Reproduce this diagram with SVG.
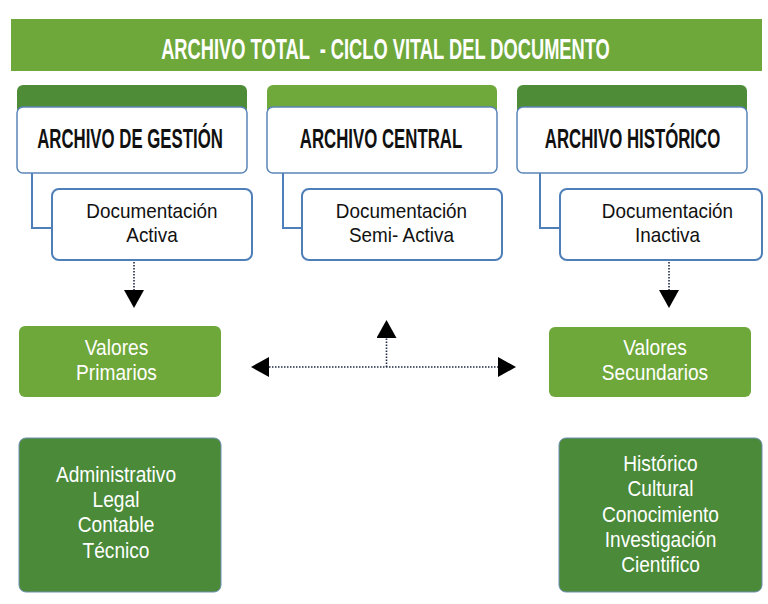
<svg xmlns="http://www.w3.org/2000/svg" width="768" height="604" viewBox="0 0 768 604">
<style>
.banner{fill:#6ea83a}
.tabDark{fill:#4e8c37}
.tabLight{fill:#6fa83b}
.head{fill:#ffffff;stroke:#5b85b8;stroke-width:1.5}
.sub{fill:#ffffff;stroke:#4f7fb8;stroke-width:2}
.val{fill:#6ea83a}
.cat{fill:#4a8a38;stroke:#6f8fb0;stroke-width:1}
.title{font-family:"Liberation Sans",Arial,sans-serif;font-weight:bold;font-size:30px;fill:#ffffff;text-anchor:middle;white-space:pre}
.htext{font-family:"Liberation Sans",Arial,sans-serif;font-weight:bold;font-size:28px;fill:#111111;text-anchor:middle}
.stext{font-family:"Liberation Sans",Arial,sans-serif;font-size:21px;fill:#111111;text-anchor:middle}
.wtext{font-family:"Liberation Sans",Arial,sans-serif;font-size:22px;fill:#ffffff;text-anchor:middle}
.link{fill:none;stroke:#4f7fb8;stroke-width:2}
.dot{fill:none;stroke:#1f2a44;stroke-width:1.6;stroke-dasharray:1.5 1.5}
</style>
<defs>
<marker id="arr" viewBox="0 0 18 20" refX="0" refY="10" markerWidth="18" markerHeight="20" markerUnits="userSpaceOnUse" orient="auto-start-reverse">
<path d="M0,0 L18,10 L0,20 z" fill="#000000"/>
</marker>
</defs>
<rect width="768" height="604" fill="#ffffff"/>

<g id="title">
<rect class="banner" x="11" y="19" width="751" height="52"/>
<text class="title" transform="translate(385.5,59) scale(0.61,1)" x="0" y="0">ARCHIVO TOTAL  - CICLO VITAL DEL DOCUMENTO</text>
</g>

<g id="connectors">
<path class="link" d="M32,173 V228 H52"/>
<path class="link" d="M283,173 V228 H302"/>
<path class="link" d="M540,173 V228 H560"/>
<line class="dot" x1="134" y1="262" x2="134" y2="290" marker-end="url(#arr)"/>
<line class="dot" x1="669" y1="262" x2="669" y2="290" marker-end="url(#arr)"/>
<line class="dot" x1="269" y1="367" x2="498" y2="367" marker-start="url(#arr)" marker-end="url(#arr)"/>
<line class="dot" x1="386.5" y1="367" x2="386.5" y2="338" marker-end="url(#arr)"/>
</g>

<g id="archivo-gestion">
<rect class="tabDark" x="17" y="85" width="230" height="30" rx="6"/>
<rect class="head" x="17" y="107" width="230" height="66" rx="6"/>
<text class="htext" transform="translate(130,148) scale(0.6,1)" x="0" y="0">ARCHIVO DE GESTIÓN</text>
</g>
<g id="doc-activa">
<rect class="sub" x="52" y="189" width="200" height="71" rx="7"/>
<text class="stext" transform="translate(152,0) scale(0.9,1)"><tspan x="0" y="218">Documentación</tspan><tspan x="0" y="242">Activa</tspan></text>
</g>

<g id="archivo-central">
<rect class="tabLight" x="267" y="85" width="230" height="30" rx="6"/>
<rect class="head" x="267" y="107" width="230" height="66" rx="6"/>
<text class="htext" transform="translate(381,148) scale(0.6,1)" x="0" y="0">ARCHIVO CENTRAL</text>
</g>
<g id="doc-semi-activa">
<rect class="sub" x="302" y="189" width="200" height="71" rx="7"/>
<text class="stext" transform="translate(401.5,0) scale(0.9,1)"><tspan x="0" y="218">Documentación</tspan><tspan x="0" y="242">Semi- Activa</tspan></text>
</g>

<g id="archivo-historico">
<rect class="tabDark" x="517" y="85" width="230" height="30" rx="6"/>
<rect class="head" x="517" y="107" width="230" height="66" rx="6"/>
<text class="htext" transform="translate(632.5,148) scale(0.6,1)" x="0" y="0">ARCHIVO HISTÓRICO</text>
</g>
<g id="doc-inactiva">
<rect class="sub" x="560" y="189" width="202" height="71" rx="7"/>
<text class="stext" transform="translate(667.5,0) scale(0.9,1)"><tspan x="0" y="218">Documentación</tspan><tspan x="0" y="242">Inactiva</tspan></text>
</g>

<g id="valores-primarios">
<rect class="val" x="19" y="326" width="202" height="71" rx="6"/>
<text class="wtext" transform="translate(116.5,0) scale(0.87,1)"><tspan x="0" y="355">Valores</tspan><tspan x="0" y="380">Primarios</tspan></text>
</g>

<g id="valores-secundarios">
<rect class="val" x="549" y="327" width="202" height="70" rx="6"/>
<text class="wtext" transform="translate(655,0) scale(0.87,1)"><tspan x="0" y="355">Valores</tspan><tspan x="0" y="380">Secundarios</tspan></text>
</g>

<g id="valores-primarios-tipos">
<rect class="cat" x="19" y="438" width="202" height="154" rx="7"/>
<text class="wtext" transform="translate(116,0) scale(0.87,1)"><tspan x="0" y="482">Administrativo</tspan><tspan x="0" y="507">Legal</tspan><tspan x="0" y="532">Contable</tspan><tspan x="0" y="558">Técnico</tspan></text>
</g>

<g id="valores-secundarios-tipos">
<rect class="cat" x="559" y="438" width="203" height="154" rx="7"/>
<text class="wtext" transform="translate(660.5,0) scale(0.87,1)"><tspan x="0" y="471">Histórico</tspan><tspan x="0" y="496">Cultural</tspan><tspan x="0" y="522">Conocimiento</tspan><tspan x="0" y="547">Investigación</tspan><tspan x="0" y="572">Cientifico</tspan></text>
</g>
</svg>
